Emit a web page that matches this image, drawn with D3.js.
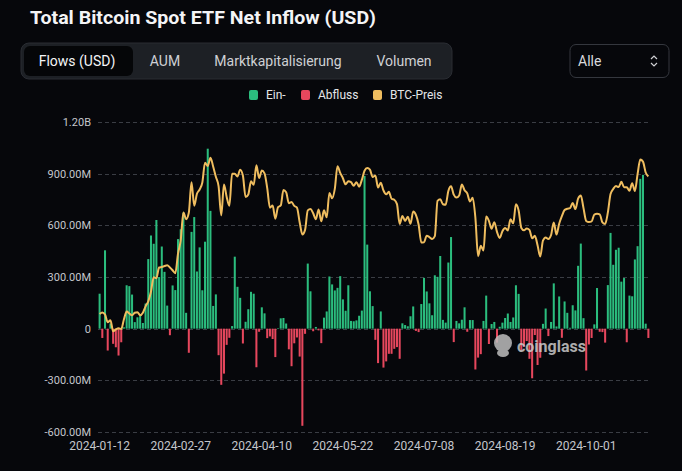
<!DOCTYPE html>
<head>
<meta charset="utf-8">
<style>
body { margin: 0; background: #06070b; }
svg { display: block; }
text { font-family: Roboto, "Noto Sans", sans-serif; }
.grid line { stroke: #3a3d44; stroke-dasharray: 4,3; }
.ylab { fill: #c4c6cb; font-size: 11px; }
.xlab { fill: #c4c6cb; font-size: 12px; }
.tab { fill: #d8d9dc; font-size: 14px; }
.leg { fill: #e4e5e8; font-size: 12px; }
</style>
</head>
<body>
<svg width="682" height="471"></svg>
<script src="https://cdn.jsdelivr.net/npm/d3@7"></script>
<script>

// trading days, first and last category, market holidays skipped
var firstDay = "2024-01-12", lastDay = "2024-11-01";
var holidays = ["2024-01-15", "2024-02-19", "2024-03-29", "2024-05-27", "2024-06-19", "2024-07-04", "2024-09-02"];

// net flows, USD millions (one per trading day)
var flows = [
  203, -54, 455, -127, 30, -88, -108, -156, -79, 8, 252, 247, 198,
  38, 66, 76, 33, 146, 404, 541, 493, 631, 300, 477, 330, 134, -38, 251, 224, 520, 577, 673, 92,
  -140, 562, 648, 332, 472, 223, 505, 1045, 684, 132, 199, -154, -326, -261, -94, -53, 15, 418, 243, 179,
  -86, 40, 113, 214, 203, -224, -18, 124, 89, -55, -45, -60, -165, 3, 60, 62, 30, -120, -218, -85, -51, -162,
  -564, -30, 378, 217, -15, 10, -10, -84, 64, 100, 303, 257, 222, 237, 305, 170, 104, 252, 45, 43, 48, 75,
  105, 887, 488, 217, 131, -65, -200, 100, -226, -190, -146, -146, -117, -107, -175, 31, 21, 14, 72,
  129, -13, -20, 143, 295, 216, 147, 78, 310, 301, 422, 51, 35, 384, 532, -78, 45, 31, 52, 124, -18, 50,
  50, -237, -168, -148, 45, 192, -89, 27, 39, -81, 11, 35, 62, 88, 39, 65, 252, 202, -127, -105, -72, -175,
  -288, -37, -211, -169, 28, 117, -43, 39, 263, 13, 187, -53, 158, 92, 5, 136, 106, 365, 494, 61,
  -243, -92, -54, 25, 236, -18, -20, -81, 253, 556, 371, 458, 470, 273, 294, -79, 192, 188, 402, 479, 870, 893, 29,
  -54
];

// BTC price, USD
var btcPrice = [
  42850, 43150, 42740, 41260, 41620, 39510, 39850, 40080, 39930, 41810, 43300, 42940, 42580,
  43080, 43190, 42580, 43080, 44320, 45300, 47150, 49960, 49740, 51830, 51940, 52120, 52280, 51840, 51300, 50730, 54520, 57090, 62500, 61200,
  62440, 68330, 63800, 66110, 66930, 68300, 72120, 71480, 73100, 71400, 69400, 67600, 61930, 67910, 65490, 63780, 69990, 69990, 69460, 70780,
  69650, 65470, 65980, 68510, 67840, 71630, 69140, 70590, 70060, 67190, 63420, 63820, 61280, 63510, 63840, 66840, 66410, 64280, 64500, 63760, 63440, 60610,
  58250, 59120, 62890, 63160, 62330, 61190, 63070, 60790, 62900, 61550, 66270, 65230, 67050, 71450, 70140, 69120, 67930, 68530, 68370, 67640, 68360, 67490,
  68800, 70570, 71080, 70760, 69340, 69650, 67320, 68240, 66760, 66010, 66490, 65140, 64960, 64100, 60280, 61800, 60860, 61670, 60320,
  62680, 62030, 60170, 56660, 56710, 57990, 57720, 57340, 57900, 64730, 65040, 64090, 63990, 66660, 67580, 65930, 65370, 65780, 67910, 66800, 66190, 64620,
  65350, 61500, 54020, 56030, 55130, 61700, 60880, 59350, 60610, 58740, 57560, 58870, 59490, 59010, 61160, 60380, 64090, 62880, 59500, 59030, 59390, 59120,
  57480, 57970, 56160, 53960, 57020, 57650, 57340, 58130, 60570, 58210, 60310, 61760, 62950, 63200, 63330, 64300, 63140, 65180, 65790, 63330,
  60840, 60630, 60750, 62090, 62230, 62130, 60580, 60270, 62450, 66050, 67040, 67610, 67400, 68420, 67380, 67370, 66680, 68160, 66640, 69910, 72720, 72340, 70220,
  69480
];

var yTicks = [-600, -300, 0, 300, 600, 900, 1200];
var tabs = ["Flows (USD)", "AUM", "Marktkapitalisierung", "Volumen"];
var legendItems = [["Ein-", "#2bbd7e"], ["Abfluss", "#e6475d"], ["BTC-Preis", "#efbd5f"]];

var fmtDay = d3.utcFormat("%Y-%m-%d");
var dates = d3.utcDay.range(new Date(firstDay), d3.utcDay.offset(new Date(lastDay), 1))
  .filter(function(d) { var w = d.getUTCDay(); return w > 0 && w < 6 && holidays.indexOf(fmtDay(d)) < 0; })
  .map(fmtDay);

var svg = d3.select("svg");

svg.append("text").attr("x", 30).attr("y", 24)
  .attr("fill", "#f4f4f6").style("font-size", "19px").style("font-weight", 700)
  .attr("textLength", 346).attr("lengthAdjust", "spacingAndGlyphs")
  .text("Total Bitcoin Spot ETF Net Inflow (USD)");

// tab bar
svg.append("rect").attr("x", 21).attr("y", 43).attr("width", 431).attr("height", 36).attr("rx", 8)
  .attr("fill", "#1d2025").attr("stroke", "#2a2d33");
svg.append("rect").attr("x", 24).attr("y", 46).attr("width", 109).attr("height", 30).attr("rx", 6)
  .attr("fill", "#050608");
var tabX = [77, 165, 278, 404];
svg.selectAll(".tab").data(tabs).enter().append("text")
  .attr("class", "tab")
  .attr("x", function(d, i) { return tabX[i]; }).attr("y", 61)
  .attr("dy", "0.35em").attr("text-anchor", "middle")
  .style("fill", function(d, i) { return i ? "#cfd0d4" : "#f4f4f6"; })
  .text(function(d) { return d; });

// dropdown
svg.append("rect").attr("x", 570).attr("y", 44.5).attr("width", 99).attr("height", 33).attr("rx", 6)
  .attr("fill", "none").attr("stroke", "#34373e");
svg.append("text").attr("class", "tab").attr("x", 578).attr("y", 61).attr("dy", "0.35em").text("Alle");
svg.append("path").attr("d", "M651,59 l3,-3 l3,3 M651,63 l3,3 l3,-3")
  .attr("fill", "none").attr("stroke", "#cfd0d4").attr("stroke-width", 1.2);

// legend
var legX = [249, 301, 373];
var leg = svg.selectAll(".legitem").data(legendItems).enter().append("g")
  .attr("transform", function(d, i) { return "translate(" + legX[i] + ",95)"; });
leg.append("rect").attr("x", 0).attr("y", -5).attr("width", 9).attr("height", 10).attr("rx", 2)
  .attr("fill", function(d) { return d[1]; });
leg.append("text").attr("class", "leg").attr("x", 17).attr("dy", "0.35em").text(function(d) { return d[0]; });

// scales
var x = d3.scaleBand().domain(dates).range([98.6, 649.4]).paddingInner(0.25);
var y = d3.scaleLinear().domain([-600, 1200]).range([432, 122]);
var yPrice = d3.scaleLinear().domain([20000, 80000]).range([432, 122]);

function fmtFlow(v) {
  if (v === 0) return "0";
  if (Math.abs(v) >= 1000) return (v / 1000).toFixed(2) + "B";
  return v.toFixed(2) + "M";
}

svg.append("g").attr("class", "grid").selectAll("line").data(yTicks).enter().append("line")
  .attr("x1", 98).attr("x2", 650)
  .attr("y1", function(d) { return Math.round(y(d)) + 0.5; })
  .attr("y2", function(d) { return Math.round(y(d)) + 0.5; });

svg.selectAll(".ylab").data(yTicks).enter().append("text")
  .attr("class", "ylab").attr("x", 91).attr("y", function(d) { return y(d); })
  .attr("dy", "0.35em").attr("text-anchor", "end")
  .text(fmtFlow);

svg.selectAll(".xlab").data(dates.filter(function(d, i) { return i % 30 === 0; })).enter().append("text")
  .attr("class", "xlab").attr("x", function(d) { return x(d) + x.bandwidth() / 2; })
  .attr("y", 450).attr("text-anchor", "middle")
  .text(function(d) { return d; });

// bars
svg.append("g").selectAll("rect").data(flows).enter().append("rect")
  .attr("x", function(d, i) { return x(dates[i]); })
  .attr("width", x.bandwidth())
  .attr("y", function(d) { return d >= 0 ? y(d) : y(0); })
  .attr("height", function(d) { return Math.abs(y(d) - y(0)); })
  .attr("fill", function(d) { return d >= 0 ? "#2bbd7e" : "#e6475d"; });

// watermark
var wm = svg.append("g").attr("opacity", 0.85);
wm.append("circle").attr("cx", 503).attr("cy", 343).attr("r", 9).attr("fill", "#bdbdbd");
wm.append("ellipse").attr("cx", 503).attr("cy", 353).attr("rx", 6).attr("ry", 4).attr("fill", "#bdbdbd");
wm.append("text").attr("x", 517).attr("y", 352).attr("fill", "#c9c9c9")
  .style("font-size", "16px").style("font-weight", 700).text("coinglass");

// price line
var line = d3.line()
  .x(function(d, i) { return x(dates[i]) + x.bandwidth() / 2; })
  .y(function(d) { return yPrice(d); })
  .curve(d3.curveMonotoneX);

svg.append("path").datum(btcPrice)
  .attr("fill", "none").attr("stroke", "#efbd5f").attr("stroke-width", 2)
  .attr("d", line);

</script>
</body>
